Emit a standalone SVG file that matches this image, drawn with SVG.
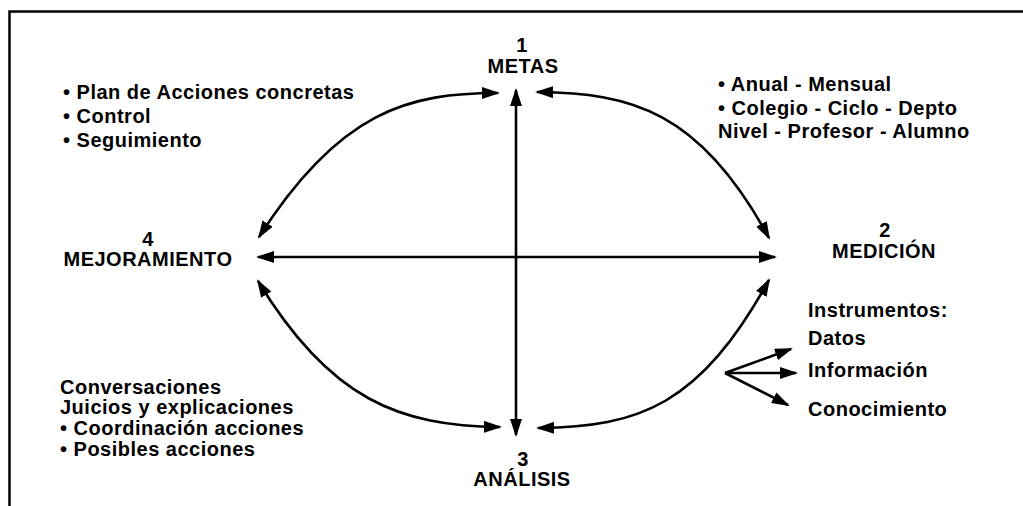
<svg xmlns="http://www.w3.org/2000/svg" width="1023" height="506" viewBox="0 0 1023 506">
<style>
text{font-family:"Liberation Sans",Arial,sans-serif;font-weight:bold;font-size:20px;fill:#000;letter-spacing:0.5px}
.c{text-anchor:middle}
.ln{fill:none;stroke:#000;stroke-width:2.6}
.frame{fill:none;stroke:#000;stroke-width:2.5}
</style>
<defs>
<marker id="ah" markerUnits="userSpaceOnUse" markerWidth="18" markerHeight="12" refX="16" refY="6" orient="auto-start-reverse" viewBox="0 0 18 12">
<path d="M0,0 L18,6 L0,12 z" fill="#000"/>
</marker>
</defs>
<rect width="1023" height="506" fill="#fff"/>
<path class="frame" d="M9.5,506 V11.5 H1023"/>
<g id="connectors">
<line class="ln" x1="516" y1="90" x2="516" y2="435" marker-start="url(#ah)" marker-end="url(#ah)"/>
<line class="ln" x1="258" y1="257" x2="775" y2="257" marker-start="url(#ah)" marker-end="url(#ah)"/>
<path class="ln" d="M498,93 C410,93 340,110 259,237" marker-start="url(#ah)" marker-end="url(#ah)"/>
<path class="ln" d="M537,92 C630,93 700,110 769,238" marker-start="url(#ah)" marker-end="url(#ah)"/>
<path class="ln" d="M258,281 C330,400 400,426 500,427" marker-start="url(#ah)" marker-end="url(#ah)"/>
<path class="ln" d="M538,428 C640,427 700,405 769,280" marker-start="url(#ah)" marker-end="url(#ah)"/>
<line class="ln" x1="725" y1="373" x2="791" y2="349" marker-end="url(#ah)"/>
<line class="ln" x1="725" y1="373" x2="796" y2="373" marker-end="url(#ah)"/>
<line class="ln" x1="725" y1="373" x2="788" y2="405" marker-end="url(#ah)"/>
</g>
<g id="node-metas">
<text class="c"><tspan x="522" y="52">1</tspan><tspan x="523" y="73">METAS</tspan></text>
</g>
<g id="node-medicion">
<text class="c"><tspan x="885" y="237">2</tspan><tspan x="884" y="258">MEDICIÓN</tspan></text>
</g>
<g id="node-analisis">
<text class="c"><tspan x="523" y="466">3</tspan><tspan x="522" y="486">ANÁLISIS</tspan></text>
</g>
<g id="node-mejoramiento">
<text class="c"><tspan x="148" y="246">4</tspan><tspan x="148" y="266">MEJORAMIENTO</tspan></text>
</g>
<g id="notes-mejoramiento">
<text><tspan x="63" y="99">• Plan de Acciones concretas</tspan><tspan x="63" y="123">• Control</tspan><tspan x="63" y="147">• Seguimiento</tspan></text>
</g>
<g id="notes-metas">
<text><tspan x="718" y="91">• Anual - Mensual</tspan><tspan x="718" y="115">• Colegio - Ciclo - Depto</tspan><tspan x="718" y="138">Nivel - Profesor - Alumno</tspan></text>
</g>
<g id="notes-analisis">
<text><tspan x="60" y="394">Conversaciones</tspan><tspan x="60" y="414">Juicios y explicaciones</tspan><tspan x="60" y="435">• Coordinación acciones</tspan><tspan x="60" y="456">• Posibles acciones</tspan></text>
</g>
<g id="notes-medicion">
<text><tspan x="808" y="317">Instrumentos:</tspan><tspan x="808" y="345">Datos</tspan><tspan x="808" y="377">Información</tspan><tspan x="808" y="416">Conocimiento</tspan></text>
</g>
</svg>
